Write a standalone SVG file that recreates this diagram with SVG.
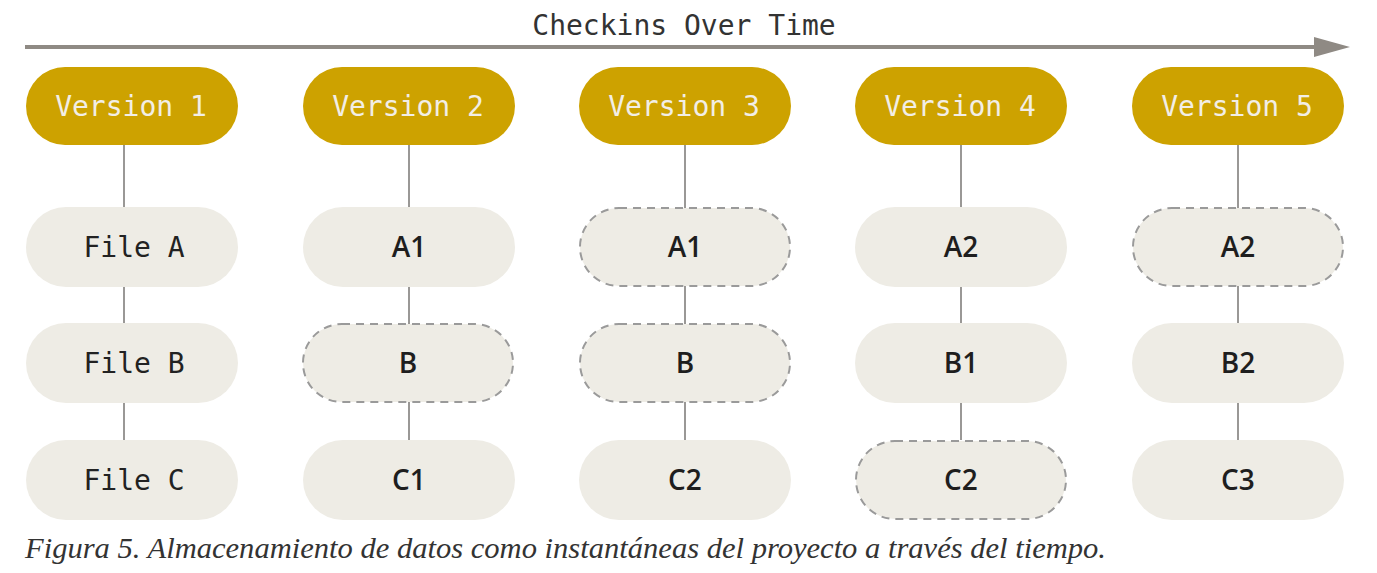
<svg xmlns="http://www.w3.org/2000/svg" width="1377" height="573" viewBox="0 0 1377 573">
<defs>
<style>
.ver rect{fill:#cda200;}
.ver text{fill:#f2eee6;font-family:"DejaVu Sans Mono",monospace;font-size:28px;text-anchor:middle;}
.file rect{fill:#eeece5;}
.file.dash rect{stroke:#9a9a9a;stroke-width:2;stroke-dasharray:8 6;}
.file text{fill:#222;font-family:"DejaVu Sans Mono",monospace;font-size:28px;text-anchor:middle;}
.file text.s{font-family:"Open Sans",sans-serif;font-weight:600;fill:#1e1e1e;}
.conn line{stroke:#9a9896;stroke-width:2;}
</style>
</defs>
<rect width="1377" height="573" fill="#ffffff"/>
<g id="timeline">
<line x1="25" y1="47" x2="1318" y2="47" stroke="#8f8a84" stroke-width="4"/>
<path d="M1314,37 L1350,47 L1314,57 Z" fill="#8f8a84"/>
<text x="684" y="35" font-family="DejaVu Sans Mono, monospace" font-size="28" fill="#333" text-anchor="middle">Checkins Over Time</text>
</g>
<g id="connectors" class="conn">
<line x1="124" y1="145" x2="124" y2="440"/>
<line x1="409" y1="145" x2="409" y2="440"/>
<line x1="685" y1="145" x2="685" y2="440"/>
<line x1="961" y1="145" x2="961" y2="440"/>
<line x1="1238" y1="145" x2="1238" y2="440"/>
</g>
<g id="v1" class="ver"><rect x="26" y="67" width="212" height="78" rx="39"/><text x="131" y="116">Version 1</text></g>
<g id="v2" class="ver"><rect x="303" y="67" width="212" height="78" rx="39"/><text x="408" y="116">Version 2</text></g>
<g id="v3" class="ver"><rect x="579" y="67" width="212" height="78" rx="39"/><text x="684" y="116">Version 3</text></g>
<g id="v4" class="ver"><rect x="855" y="67" width="212" height="78" rx="39"/><text x="960" y="116">Version 4</text></g>
<g id="v5" class="ver"><rect x="1132" y="67" width="212" height="78" rx="39"/><text x="1237" y="116">Version 5</text></g>

<g id="v1a" class="file"><rect x="26" y="207" width="212" height="80" rx="40"/><text x="134" y="257">File A</text></g>
<g id="v1b" class="file"><rect x="26" y="323" width="212" height="80" rx="40"/><text x="134" y="373">File B</text></g>
<g id="v1c" class="file"><rect x="26" y="440" width="212" height="80" rx="40"/><text x="134" y="490">File C</text></g>

<g id="v2a" class="file"><rect x="303" y="207" width="212" height="80" rx="40"/><text class="s" x="409" y="257">A1</text></g>
<g id="v2b" class="file dash"><rect x="303" y="324" width="210" height="78" rx="39"/><text class="s" x="408" y="373">B</text></g>
<g id="v2c" class="file"><rect x="303" y="440" width="212" height="80" rx="40"/><text class="s" x="409" y="490">C1</text></g>

<g id="v3a" class="file dash"><rect x="580" y="208" width="210" height="78" rx="39"/><text class="s" x="685" y="257">A1</text></g>
<g id="v3b" class="file dash"><rect x="580" y="324" width="210" height="78" rx="39"/><text class="s" x="685" y="373">B</text></g>
<g id="v3c" class="file"><rect x="579" y="440" width="212" height="80" rx="40"/><text class="s" x="685" y="490">C2</text></g>

<g id="v4a" class="file"><rect x="855" y="207" width="212" height="80" rx="40"/><text class="s" x="961" y="257">A2</text></g>
<g id="v4b" class="file"><rect x="855" y="323" width="212" height="80" rx="40"/><text class="s" x="961" y="373">B1</text></g>
<g id="v4c" class="file dash"><rect x="856" y="441" width="210" height="78" rx="39"/><text class="s" x="961" y="490">C2</text></g>

<g id="v5a" class="file dash"><rect x="1133" y="208" width="210" height="78" rx="39"/><text class="s" x="1238" y="257">A2</text></g>
<g id="v5b" class="file"><rect x="1132" y="323" width="212" height="80" rx="40"/><text class="s" x="1238" y="373">B2</text></g>
<g id="v5c" class="file"><rect x="1132" y="440" width="212" height="80" rx="40"/><text class="s" x="1238" y="490">C3</text></g>

<text id="caption" x="25" y="558" font-family="Liberation Serif, serif" font-style="italic" font-size="30" fill="#333" textLength="1081" lengthAdjust="spacingAndGlyphs">Figura 5. Almacenamiento de datos como instantáneas del proyecto a través del tiempo.</text>
</svg>
